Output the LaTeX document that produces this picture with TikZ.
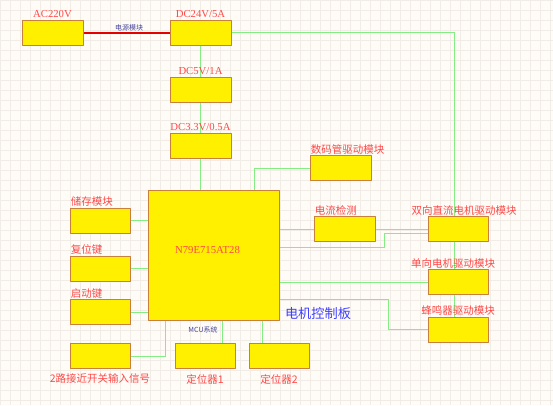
\documentclass[tikz,border=0pt]{standalone}
\usepackage{fontspec}
\setmainfont{Liberation Serif}
\newfontfamily\cjk{Noto Sans CJK SC}
\usetikzlibrary{positioning}
\definecolor{blkfill}{HTML}{FFF000}
\definecolor{blkline}{HTML}{C8803C}
\definecolor{wiregreen}{HTML}{84EE84}
\definecolor{lblred}{HTML}{FF4848}
\definecolor{navy}{HTML}{44449A}
\definecolor{boardblue}{HTML}{4040FF}
\definecolor{paper}{HTML}{FFFCF8}
\definecolor{gridline}{HTML}{F1EDE6}
\pgfdeclarelayer{grid}
\pgfdeclarelayer{wires}
\pgfsetlayers{grid,wires,main}
\begin{document}
\begin{tikzpicture}[x=1pt,y=-1pt,line cap=round,line join=round,
  blk/.style={draw=blkline,fill=blkfill,line width=0.8pt,minimum width=61pt,minimum height=25pt,inner sep=0pt},
  wire/.style={draw=wiregreen,line width=0.9pt},
  lbl/.style={text=lblred,font=\fontsize{10.7}{12}\selectfont,inner sep=2pt},
  zh/.style={text=lblred,font=\cjk\fontsize{10.5}{12}\selectfont,inner sep=1pt},
  tiny/.style={text=navy,font=\cjk\fontsize{7}{8}\selectfont,inner sep=0.5pt}]
	\useasboundingbox (0,0) rectangle (553,405);
	\begin{pgfonlayer}{grid}
		\fill[paper] (0,0) rectangle (553,405);
		\draw[gridline,line width=0.5pt,step=10pt] (0,0) grid (553,405);
	\end{pgfonlayer}
	% power chain
	\node[blk] (ac) at (52.5,32.5) {};
	\node[blk] (dc24) at (200.5,32.5) {};
	\node[blk] (dc5) at (200.5,89.5) {};
	\node[blk] (dc33) at (200.5,146) {};
	\node[lbl,anchor=south] (acl) at (ac.north) {AC220V};
	\node[lbl,anchor=south] (dc24l) at (dc24.north) {DC24V/5A};
	\node[lbl,anchor=south] (dc5l) at (dc5.north) {DC5V/1A};
	\node[lbl,anchor=south] (dc33l) at (dc33.north) {DC3.3V/0.5A};
	% mcu
	\node[blk,minimum width=131pt,minimum height=130pt] (mcu) at (213.5,255) {};
	\node[lbl] (mcul) at ([xshift=-6pt,yshift=5pt]mcu.center) {N79E715AT28};
	\node[tiny,anchor=north] (mcus) at ([xshift=-10.5pt,yshift=-5pt]mcu.south) {MCU系统};
	% left side
	\node[blk,minimum width=60pt] (store) at (100,220.5) {};
	\node[blk,minimum width=60pt] (reset) at (100,268.5) {};
	\node[blk,minimum width=60pt] (start) at (100,312) {};
	\node[blk,minimum width=60pt] (prox) at (100,356) {};
	\node[zh,anchor=south west] (storel) at (store.north west) {储存模块};
	\node[zh,anchor=south west] (resetl) at (reset.north west) {复位键};
	\node[zh,anchor=south west] (startl) at (start.north west) {启动键};
	\node[zh,below=4pt of prox] (proxl) {2路接近开关输入信号};
	% bottom
	\node[blk,minimum width=60pt] (pos1) at (205,356) {};
	\node[blk,minimum width=60pt] (pos2) at (279,356) {};
	\node[zh,below=4pt of pos1] (pos1l) {定位器1};
	\node[zh,below=4pt of pos2] (pos2l) {定位器2};
	% right side
	\node[blk] (seg) at (340.5,168) {};
	\node[blk] (ilim) at (344.5,229) {};
	\node[blk,minimum width=60pt] (dcm) at (458,229) {};
	\node[blk,minimum width=60pt] (um) at (458,282) {};
	\node[blk,minimum width=60pt] (buz) at (458,329.5) {};
	\node[zh,anchor=south west] (segl) at (seg.north west) {数码管驱动模块};
	\node[zh,anchor=south west] (iliml) at (ilim.north west) {电流检测};
	\node[zh,anchor=south] (dcml) at ([xshift=6pt]dcm.north) {双向直流电机驱动模块};
	\node[zh,anchor=south] (uml) at ([xshift=-5pt]um.north) {单向电机驱动模块};
	\node[zh,anchor=south] (buzl) at (buz.north) {蜂鸣器驱动模块};
	\node[text=boardblue,font=\cjk\fontsize{13.2}{15}\selectfont] (board) at (318,313) {电机控制板};
	% wires
	\begin{pgfonlayer}{wires}
		\draw[red!90!black,line width=2pt] (ac) -- node[tiny,above,xshift=2.5pt] (pwrl) {电源模块} (dc24);
		\draw[wire] (dc24) -- (dc5) (dc5) -- (dc33) (dc33.south) -- (dc33.south |- mcu.north);
		\draw[wire] (dc24.east) -| ([xshift=-4pt]buz.north);
		\draw[wire] (seg.west) -| ([xshift=-25pt]mcu.north east);
		\foreach \b in {store,reset,start}
			\draw[wire] (\b.east) -- (\b.east -| mcu.west);
		\draw[wire] (prox.east) -| ([xshift=18pt]mcu.south west);
		\draw[wire] ([xshift=17pt]pos1.north) -- ([xshift=17pt]pos1.north |- mcu.south);
		\draw[wire] ([xshift=-17pt]pos2.north) -- ([xshift=-17pt]pos2.north |- mcu.south);
		\draw[wire] (ilim.west -| mcu.east) -- (ilim.west) (ilim.east) -- (dcm.west);
		\draw[wire] ([yshift=8pt]mcu.east) -- ++(105pt,0) |- ([yshift=-4pt]dcm.west);
		\draw[wire] (um.west -| mcu.east) -- (um.west);
		\draw[wire] ([yshift=-44pt]mcu.east) -- ++(109pt,0) |- (buz.west);
	\end{pgfonlayer}
\end{tikzpicture}
\end{document}
